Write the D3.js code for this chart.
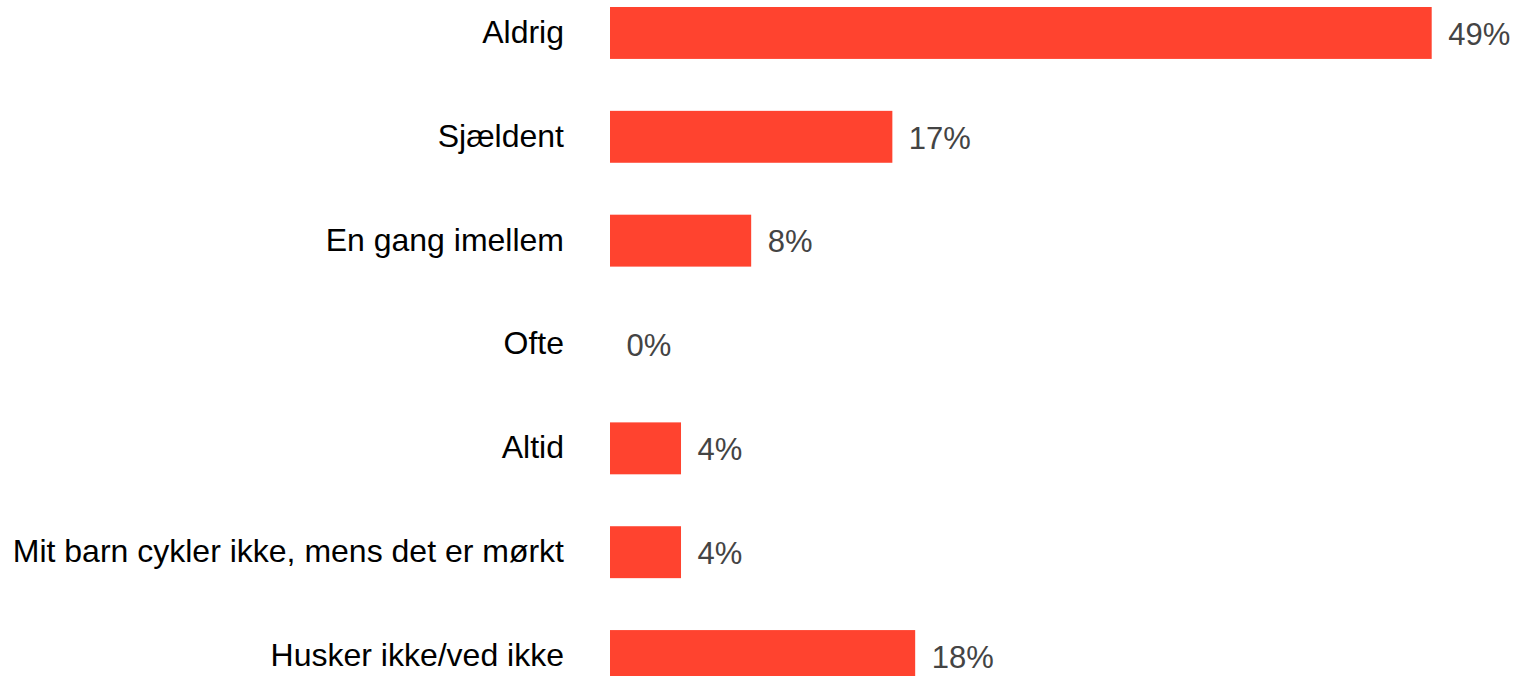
<!DOCTYPE html>
<html>
<head>
<meta charset="utf-8">
<script src="https://cdn.jsdelivr.net/npm/d3@7"></script>
<style>
  html, body { margin: 0; padding: 0; background: #fff; }
  svg { display: block; }
</style>
</head>
<body>
<svg id="chart" width="1519" height="676"></svg>
<script>
const categories = [
  "Aldrig",
  "Sjældent",
  "En gang imellem",
  "Ofte",
  "Altid",
  "Mit barn cykler ikke, mens det er mørkt",
  "Husker ikke/ved ikke"
];
const values = [48.6, 16.7, 8.35, 0, 4.2, 4.2, 18.05];
const valueLabels = ["49%", "17%", "8%", "0%", "4%", "4%", "18%"];

const svg = d3.select("#chart");
const x0 = 610;
const x = d3.scaleLinear().domain([0, 48.6]).range([x0, 1431.7]);
const y = d3.scaleBand().domain(categories).range([7, 682]).paddingInner(0.5).paddingOuter(0);

svg.selectAll("rect.bar")
  .data(categories)
  .enter().append("rect")
  .attr("class", "bar")
  .attr("x", x(0))
  .attr("y", d => y(d))
  .attr("width", (d, i) => x(values[i]) - x(0))
  .attr("height", y.bandwidth())
  .attr("fill", "#ff432f");

svg.selectAll("text.cat")
  .data(categories)
  .enter().append("text")
  .attr("class", "cat")
  .attr("x", 564)
  .attr("y", d => y(d) + y.bandwidth() / 2)
  .attr("dy", "0.31em")
  .attr("text-anchor", "end")
  .attr("font-family", "Liberation Sans, Arial, sans-serif")
  .attr("font-size", 32)
  .attr("fill", "#000")
  .text(d => d);

svg.selectAll("text.val")
  .data(categories)
  .enter().append("text")
  .attr("class", "val")
  .attr("x", (d, i) => x(values[i]) + 16.5)
  .attr("y", d => y(d) + y.bandwidth() / 2)
  .attr("dy", "0.38em")
  .attr("text-anchor", "start")
  .attr("font-family", "Liberation Sans, Arial, sans-serif")
  .attr("font-size", 31)
  .attr("fill", "#444")
  .text((d, i) => valueLabels[i]);
</script>
</body>
</html>
